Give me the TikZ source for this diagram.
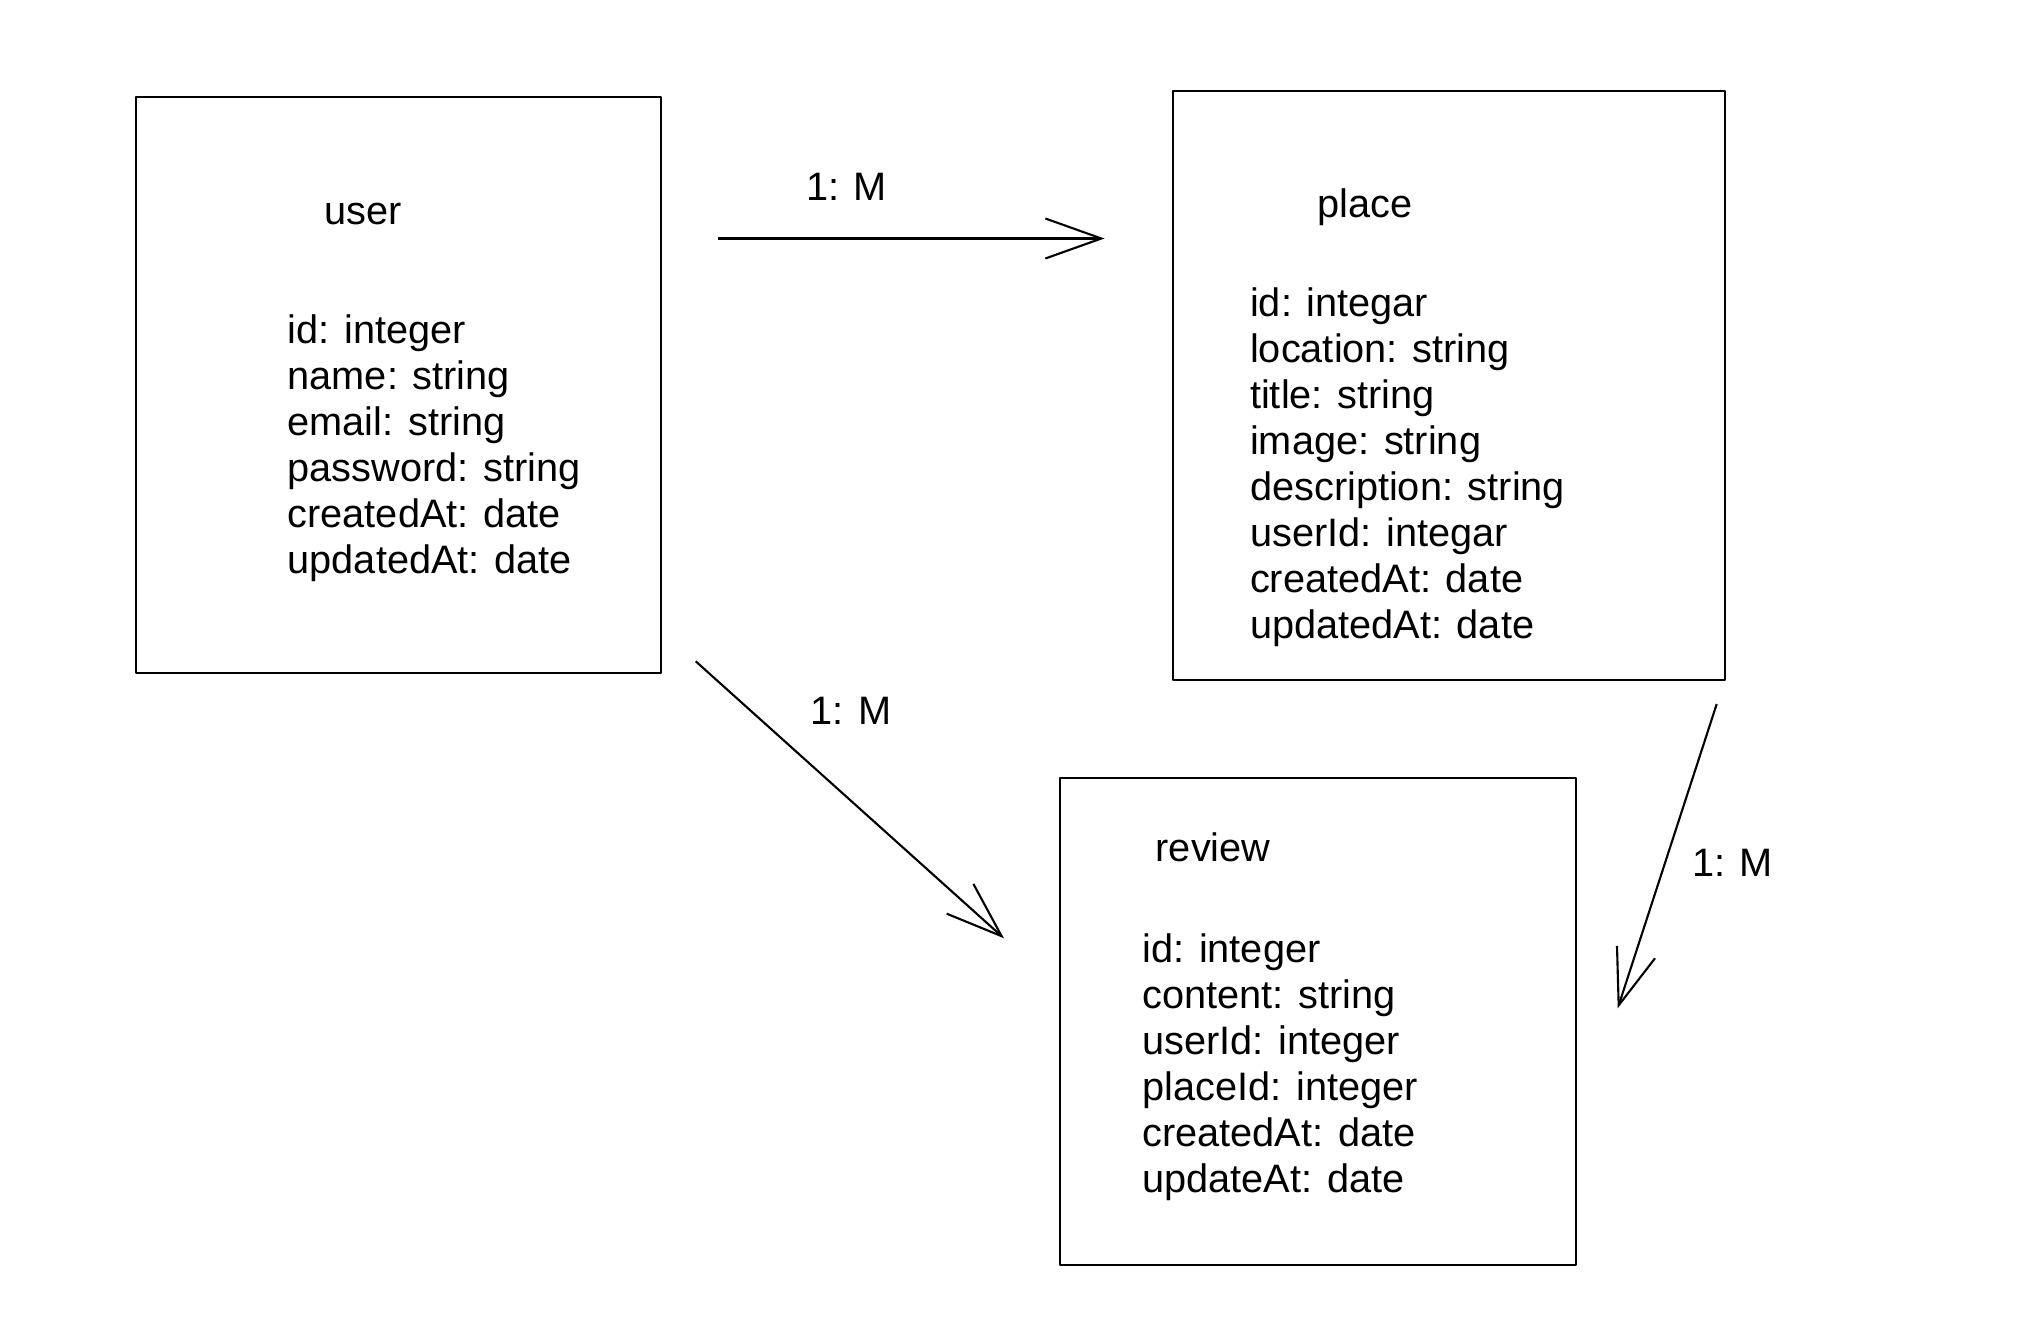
\documentclass[tikz,border=0pt]{standalone}
\usepackage{fontspec}
\setmainfont{Liberation Sans}
\usetikzlibrary{arrows.meta}

\begin{document}
\begin{tikzpicture}[
  x=0.1mm,
  y=-0.1mm,
  line join=round,
  entity/.style={draw=black,line width=0.7pt,inner sep=0pt,anchor=north west},
  field/.style={anchor=base west,inner sep=0pt,font=\fontsize{11.3}{13}\selectfont},
  relation/.style={draw=black,line width=0.6pt,-{Straight Barb[length=5.6mm,width=4mm]}},
  cardinality/.style={anchor=base,inner sep=0pt,font=\fontsize{11.3}{13}\selectfont}
]
  % Keep the page at the size of the original drawing.
  \useasboundingbox (0,0) rectangle (2028,1327);

  % Entity boxes.
  \node[entity,minimum width=52.5mm,minimum height=57.6mm] (user) at (135,96) {};
  \node[entity,minimum width=55.2mm,minimum height=58.9mm] (place) at (1172,90) {};
  \node[entity,minimum width=51.6mm,minimum height=48.7mm] (review) at (1058.7,776.7) {};

  % Entity names.
  \node[field] (user-title) at (324,225) {user};
  \node[field] (place-title) at (1317,218) {place};
  \node[field] (review-title) at (1155,861) {review};

  % Attribute lists, one line every 45.9 units.
  \foreach \t [count=\i from 0] in {id: integer,name: string,email: string,
      password: string,createdAt: date,updatedAt: date} {
    \node[field] (user-f\i) at (287,344+45.9*\i) {\t};
  }
  \foreach \t [count=\i from 0] in {id: integar,location: string,title: string,
      image: string,description: string,userId: integar,createdAt: date,
      updatedAt: date} {
    \node[field] (place-f\i) at (1249.4,317+45.9*\i) {\t};
  }
  \foreach \t [count=\i from 0] in {id: integer,content: string,userId: integer,
      placeId: integer,createdAt: date,updateAt: date} {
    \node[field] (review-f\i) at (1141.7,962.7+45.9*\i) {\t};
  }

  % Free ends of the relation arrows.
  \coordinate (up-from) at (718.3,238.5);
  \coordinate (up-to) at (1104.5,238.5);
  \coordinate (ur-from) at (695.7,661.3);
  \coordinate (ur-to) at (1004,938.3);
  \coordinate (pr-from) at (1716.7,704);
  \coordinate (pr-to) at (1617.7,1008.3);

  % One-to-many relations.
  \draw[relation] (up-from) -- (up-to);
  \draw[relation] (ur-from) -- (ur-to);
  \draw[relation] (pr-from) -- (pr-to);

  \node[cardinality] (up-label) at (846.5,200.7) {1: M};
  \node[cardinality] (ur-label) at (851,724) {1: M};
  \node[cardinality] (pr-label) at (1732.5,876.7) {1: M};
\end{tikzpicture}
\end{document}
